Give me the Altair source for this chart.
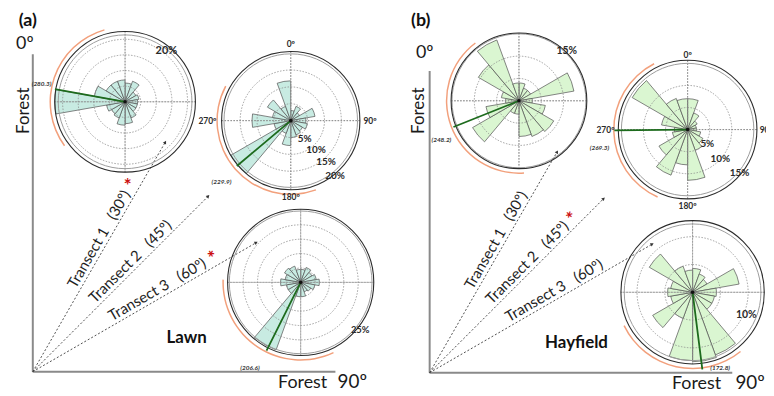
import math
import altair as alt
import pandas as pd

# ---------------- canvas (image pixel coordinates) ----------------
CANVAS_W, CANVAS_H = 764, 386
X_DOMAIN = [8, 772]
Y_DOMAIN = [8, 394]

# ---------------- rose diagram data (percent of observations per 20° bin) ----------------
BIN_WIDTH = 20
BIN_STARTS = list(range(0, 360, BIN_WIDTH))

LAWN_T1 = [6, 7, 4, 4.5, 4, 4, 4, 5.5, 7, 7.5, 5.5, 5, 6, 22.5, 10, 7, 7, 7]
LAWN_T2 = [3, 4.5, 3, 7.3, 4.5, 5, 4, 4.5, 5, 7.4, 4, 20.5, 5, 11.5, 5.5, 8, 4.5, 11.8]
LAWN_T3 = [4.5, 5.5, 4.5, 5.5, 6.5, 5, 4, 3.5, 5, 5, 25, 5, 5, 7, 5.5, 6.5, 6, 4.5]
HAY_T1 = [4, 3, 3, 12.5, 3, 6, 9, 8.5, 8, 3, 3, 12, 7.5, 3, 4, 10.5, 14.5, 4]
HAY_T2 = [7, 4, 2.5, 2, 2, 3, 4, 5, 11.5, 8, 11, 7.5, 3.5, 3, 6, 14.5, 7.5, 7]
HAY_T3 = [4.3, 3.5, 3, 8.5, 4.3, 4, 4, 12, 12.5, 12.3, 5, 8.3, 4, 4.5, 4, 9, 5, 4]
ROSE_BINS = [LAWN_T1, LAWN_T2, LAWN_T3, HAY_T1, HAY_T2, HAY_T3]

ROSE_CX = [126, 293, 303, 523, 693, 698]
ROSE_CY = [101, 120, 283, 100, 129, 293]
ROSE_PX_PER_PCT = [3.15, 3.4, 2.9, 4.5, 4.45, 5.6]
ROSE_FILL = ["#c8ebe2", "#c8ebe2", "#c8ebe2", "#daf6d1", "#daf6d1", "#daf6d1"]
ROSE_RINGS = [[5, 10, 15, 20], [5, 10, 15], [5, 10, 15, 20], [5, 10], [5, 10], [5, 10]]
ROSE_GREY = [21.4, 19.8, 24.8, 15.0, 15.0, 12.3]
ROSE_OUTER = [22.5, 20.5, 25.4, 15.2, 15.7, 12.9]

MEAN_DIR = [280.3, 229.9, 206.6, 248.2, 269.3, 172.8]
MEAN_LEN = [22.8, 20.9, 26.5, 15.8, 16.6, 14.0]
MEAN_LABEL = ["(280.3)", "(229.9)", "(206.6)", "(248.2)", "(269.3)", "(172.8)"]
MEAN_LABEL_THETA = [282, 228.5, 210.7, 243, 258, 160]
MEAN_LABEL_R = [27.3, 27.4, 34.5, 19.5, 20.4, 14.5]
CI_START = [234, 160, 155, 176, 204, 141]
CI_END = [344, 298, 272, 323, 333, 244]

# degree labels: rose index, text, bearing, radius (%)
DEG_ROSE = [1, 1, 1, 1, 4, 4, 4, 4]
DEG_TEXT = ["0º", "90º", "180º", "270º", "0º", "90º", "180º", "270º"]
DEG_THETA = [0, 90, 180, 270, 0, 90, 180, 270]
DEG_R = [22.8, 23.5, 22.6, 24.7, 16.9, 17.8, 17.4, 18.6]

# percentage labels
PCT_ROSE = [0, 1, 1, 1, 1, 2, 3, 4, 4, 4, 5]
PCT_TEXT = ["20%", "5%", "10%", "15%", "20%", "25%", "15%", "5%", "10%", "15%", "10%"]
PCT_THETA = [39, 143, 139, 139.7, 141.6, 128.7, 44, 125.8, 131.7, 129.7, 113]
PCT_R = [21, 6.9, 11.4, 16.2, 21.1, 26.5, 15.4, 5.5, 9.9, 15.3, 10.5]
PCT_SIZE = [11, 10, 10, 10, 10, 9.5, 10.5, 10, 10, 10, 10.5]

# ---------------- panel frames ----------------
PANEL_OX = [33, 433]
PANEL_OY = [373, 374]
AXIS_UP_LEN = [320, 304]
AXIS_RIGHT_LEN = [305, 305]
TRANSECT_BEARING = [30, 45, 60]
TRANSECT_LEN = [[267, 250, 260], [257, 248, 259]]
NB = "\u00a0"
TRANSECT_LABELS = ["Transect 1" + NB * 3 + "(30º)", "Transect 2" + NB * 3 + "(45º)",
                   "Transect 3" + NB * 3 + "(60º)"]
TRANSECT_LABEL_R = [149, 148, 150]
STAR_PANEL = [0, 0, 1]
STAR_TRANSECT = [0, 2, 1]
STAR_R = [214, 215, 212]

NORMAL_TEXT = ["0º", "0º", "Forest", "Forest", "Forest", "Forest", "90º", "90º"]
NORMAL_X = [25, 428, 29, 427, 305, 702, 355, 756]
NORMAL_Y = [48, 57, 110, 110, 389, 390, 389, 390]
NORMAL_SIZE = [18, 18, 17, 17, 18, 18, 19, 19]
NORMAL_ANGLE = [0, 0, 270, 270, 0, 0, 0, 0]

BOLD_TEXT = ["(a)", "(b)", "Lawn", "Hayfield"]
BOLD_X = [28, 424, 188, 581]
BOLD_Y = [25, 25, 344, 349]
BOLD_SIZE = [18, 18, 17, 17]

FONT = "Lato"

xs = alt.Scale(domain=X_DOMAIN, nice=False, zero=False)
ys = alt.Scale(domain=Y_DOMAIN, reverse=True, nice=False, zero=False)
ts = alt.Scale(type="linear", domain=[0, 360], range=[0, 2 * math.pi], nice=False, zero=False)
X = alt.X("cx:Q", scale=xs, axis=None)
Y = alt.Y("cy:Q", scale=ys, axis=None)


def rose(i):
    ppp = ROSE_PX_PER_PCT[i]
    cx, cy = ROSE_CX[i], ROSE_CY[i]
    rs = alt.Scale(type="linear", domain=[0, 40], range=[0, 40 * ppp], zero=True, nice=False)

    def frame(t0, t1, r, r0):
        return pd.DataFrame({"cx": [cx] * len(t0), "cy": [cy] * len(t0),
                             "t0": t0, "t1": t1, "r": r, "r0": r0})

    def arcs(df, **mark):
        return alt.Chart(df).mark_arc(**mark).encode(
            x=X, y=Y,
            theta=alt.Theta("t0:Q", scale=ts, stack=False),
            theta2=alt.Theta2("t1:Q"),
            radius=alt.Radius("r:Q", scale=rs),
            radius2=alt.Radius2("r0:Q"),
        )

    outer_px = ROSE_OUTER[i] * ppp
    n = len(BIN_STARTS)
    rings = ROSE_RINGS[i]
    layers = [
        arcs(frame([CI_START[i]], [CI_END[i]], [(outer_px + 5.3) / ppp], [(outer_px + 3.8) / ppp]),
             fill="#f2a07c"),
        arcs(frame(BIN_STARTS, [b + BIN_WIDTH for b in BIN_STARTS], ROSE_BINS[i], [0] * n),
             fill=ROSE_FILL[i], stroke="#505050", strokeWidth=0.7),
        arcs(frame([0] * len(rings), [360] * len(rings), rings, [0] * len(rings)),
             fillOpacity=0, stroke="#8a8a8a", strokeWidth=0.8, strokeDash=[1.5, 1.5]),
        arcs(frame([0, 90, 180, 270], [0, 90, 180, 270], [ROSE_OUTER[i]] * 4, [0] * 4),
             fillOpacity=0, stroke="#8a8a8a", strokeWidth=0.8, strokeDash=[1.5, 1.5]),
        arcs(frame([0], [360], [ROSE_GREY[i]], [0]),
             fillOpacity=0, stroke="#9c9c9c", strokeWidth=1),
        arcs(frame([0], [360], [ROSE_OUTER[i]], [0]),
             fillOpacity=0, stroke="#2b2b2b", strokeWidth=1.1),
        arcs(frame([MEAN_DIR[i]], [MEAN_DIR[i]], [MEAN_LEN[i]], [0]),
             fillOpacity=0, stroke="#1d6b1d", strokeWidth=1.8),
        arcs(frame([0], [360], [1.8 / ppp], [0]), fill="#111111"),
    ]

    def texts(df, **mark):
        return alt.Chart(df).mark_text(font=FONT, **mark).encode(
            x=X, y=Y,
            theta=alt.Theta("t0:Q", scale=ts, stack=False),
            radius=alt.Radius("r:Q", scale=rs),
            text="txt:N",
            size=alt.Size("fs:Q", scale=None),
        )

    lab_t, lab_th, lab_r, lab_fs = [], [], [], []
    for k, ri in enumerate(DEG_ROSE):
        if ri == i:
            lab_t.append(DEG_TEXT[k]); lab_th.append(DEG_THETA[k]); lab_r.append(DEG_R[k]); lab_fs.append(8.5)
    for k, ri in enumerate(PCT_ROSE):
        if ri == i:
            lab_t.append(PCT_TEXT[k]); lab_th.append(PCT_THETA[k]); lab_r.append(PCT_R[k]); lab_fs.append(PCT_SIZE[k])
    if lab_t:
        df = pd.DataFrame({"cx": [cx] * len(lab_t), "cy": [cy] * len(lab_t), "t0": lab_th,
                           "r": lab_r, "txt": lab_t, "fs": lab_fs})
        layers.append(texts(df, fontWeight="bold", color="#2a2a2a"))
    mdf = pd.DataFrame({"cx": [cx], "cy": [cy], "t0": [MEAN_LABEL_THETA[i]], "r": [MEAN_LABEL_R[i]],
                        "txt": [MEAN_LABEL[i]], "fs": [6.5]})
    layers.append(texts(mdf, fontWeight="bold", fontStyle="italic", color="#333333"))
    return alt.layer(*layers)


roses = [rose(i) for i in range(6)]

# ---------------- frames: axes, transects ----------------
ax_rows = []
for p in range(2):
    ax_rows.append({"cx": PANEL_OX[p], "cy": PANEL_OY[p], "b": 0, "len": AXIS_UP_LEN[p]})
    ax_rows.append({"cx": PANEL_OX[p], "cy": PANEL_OY[p], "b": 90, "len": AXIS_RIGHT_LEN[p]})
ax_df = pd.DataFrame(ax_rows)

tr_rows = []
for p in range(2):
    for k in range(3):
        tr_rows.append({"cx": PANEL_OX[p], "cy": PANEL_OY[p], "b": TRANSECT_BEARING[k],
                        "len": TRANSECT_LEN[p][k], "lr": TRANSECT_LABEL_R[k],
                        "txt": TRANSECT_LABELS[k], "ang": TRANSECT_BEARING[k] + 270})
tr_df = pd.DataFrame(tr_rows)

st_rows = []
for s in range(len(STAR_PANEL)):
    p, k = STAR_PANEL[s], STAR_TRANSECT[s]
    st_rows.append({"cx": PANEL_OX[p], "cy": PANEL_OY[p], "b": TRANSECT_BEARING[k],
                    "lr": STAR_R[s], "ang": TRANSECT_BEARING[k] + 270, "txt": "*"})
st_df = pd.DataFrame(st_rows)

END_X = "datum.cx + datum.len * sin(datum.b * PI / 180)"
END_Y = "datum.cy - datum.len * cos(datum.b * PI / 180)"
LAB_X = "datum.cx + datum.lr * sin(datum.b * PI / 180)"
LAB_Y = "datum.cy - datum.lr * cos(datum.b * PI / 180)"

axes = alt.Chart(ax_df).transform_calculate(ex=END_X, ey=END_Y).mark_rule(
    color="#8a8a8a", strokeWidth=2).encode(x=X, y=Y, x2="ex:Q", y2="ey:Q")

transects = alt.Chart(tr_df).transform_calculate(ex=END_X, ey=END_Y).mark_rule(
    color="#3a3a3a", strokeWidth=0.9, strokeDash=[2, 2]).encode(x=X, y=Y, x2="ex:Q", y2="ey:Q")

heads = alt.Chart(tr_df).transform_calculate(ex=END_X, ey=END_Y).mark_point(
    shape="triangle-up", filled=True, size=14, color="#333333", opacity=1).encode(
    x=alt.X("ex:Q", scale=xs, axis=None), y=alt.Y("ey:Q", scale=ys, axis=None),
    angle=alt.Angle("b:Q", scale=None))

tr_labels = alt.Chart(tr_df).transform_calculate(lx=LAB_X, ly=LAB_Y).mark_text(
    font=FONT, fontSize=15, baseline="bottom", dy=-1, color="#1e1e1e").encode(
    x=alt.X("lx:Q", scale=xs, axis=None), y=alt.Y("ly:Q", scale=ys, axis=None),
    text="txt:N", angle=alt.Angle("ang:Q", scale=None))

stars = alt.Chart(st_df).transform_calculate(lx=LAB_X, ly=LAB_Y).mark_text(
    font=FONT, fontSize=19, fontWeight="bold", baseline="bottom", dy=2, color="#cc1111").encode(
    x=alt.X("lx:Q", scale=xs, axis=None), y=alt.Y("ly:Q", scale=ys, axis=None),
    text="txt:N", angle=alt.Angle("ang:Q", scale=None))

norm_df = pd.DataFrame({"cx": NORMAL_X, "cy": NORMAL_Y, "txt": NORMAL_TEXT,
                        "fs": NORMAL_SIZE, "ang": NORMAL_ANGLE})
normal_text = alt.Chart(norm_df).mark_text(font=FONT, baseline="alphabetic", color="#1a1a1a").encode(
    x=X, y=Y, text="txt:N", size=alt.Size("fs:Q", scale=None), angle=alt.Angle("ang:Q", scale=None))

bold_df = pd.DataFrame({"cx": BOLD_X, "cy": BOLD_Y, "txt": BOLD_TEXT, "fs": BOLD_SIZE})
bold_text = alt.Chart(bold_df).mark_text(font=FONT, fontWeight="bold", baseline="alphabetic",
                                         color="#111111").encode(
    x=X, y=Y, text="txt:N", size=alt.Size("fs:Q", scale=None))

chart = alt.layer(
    axes, transects, heads, tr_labels, stars, normal_text, bold_text, *roses
).resolve_scale(radius="independent").properties(
    width=CANVAS_W, height=CANVAS_H, padding=0,
    autosize=alt.AutoSizeParams(type="none"),
).configure_view(strokeWidth=0)

chart.save("out.html", embed_options={"renderer": "svg", "actions": False})
